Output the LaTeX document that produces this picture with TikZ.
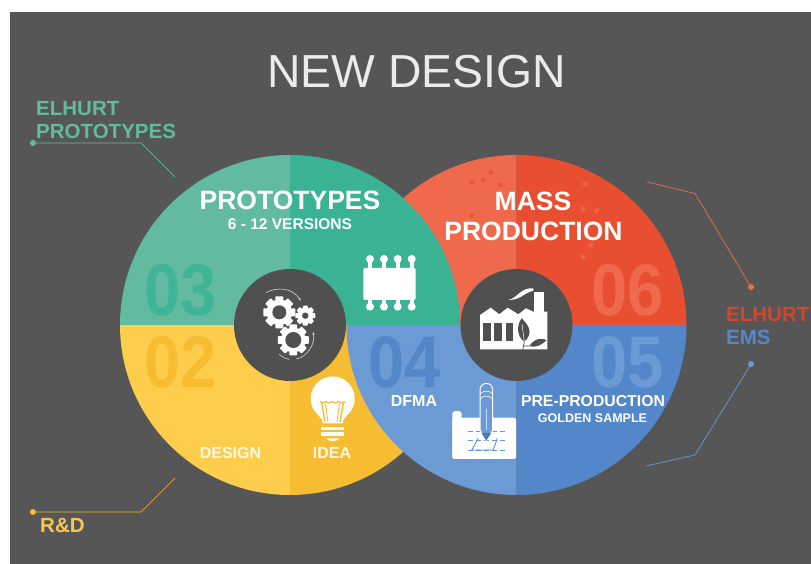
\documentclass[tikz,border=0pt]{standalone}
\usepackage{fontspec}
\setmainfont{Liberation Sans}
\newfontfamily\numfont[FakeStretch=0.89]{Liberation Sans Bold}
\usetikzlibrary{arrows.meta}
\definecolor{bgdark}{HTML}{565656}
\definecolor{holegray}{HTML}{505050}
\definecolor{greenlight}{HTML}{62BBA0}
\definecolor{greendark}{HTML}{3AB395}
\definecolor{redlight}{HTML}{EF6A4C}
\definecolor{reddark}{HTML}{E84F30}
\definecolor{yellowlight}{HTML}{FFCD4C}
\definecolor{yellowdark}{HTML}{F6BD33}
\definecolor{bluelight}{HTML}{6C9AD4}
\definecolor{bluedark}{HTML}{5487C9}
\tikzset{
  headtext/.style={text=white,font=\bfseries\fontsize{26.5}{28}\selectfont,anchor=base,inner sep=0pt},
  subtext/.style={text=white,font=\bfseries\fontsize{16}{18}\selectfont,anchor=base,inner sep=0pt},
  sidetext/.style={font=\bfseries\fontsize{20.5}{22}\selectfont,anchor=base west,inner sep=0pt},
  numtext/.style={font=\numfont\fontsize{73}{73}\selectfont,anchor=base,inner sep=0pt},
  dotnode/.style={circle,inner sep=0pt,minimum size=6pt,fill=#1},
  leader/.style={draw=#1,line width=.7pt},
  holenode/.style={circle,fill=holegray,inner sep=0pt,minimum size=112pt}
}
\newcommand{\quadrant}[3]{\fill[#1] (#2) -- ++(#3:170) arc[start angle=#3,delta angle=90,radius=170] -- cycle;}
\newcommand{\gearicon}[4]{
  \fill[white] (#1,#2) circle (.8*#3);
  \foreach \a in {0,45,...,315}
    \fill[white,rounded corners=.8pt,rotate around={\a:(#1,#2)}] (#1-.25*#3,#2) rectangle (#1+.25*#3,#2+#3);
  \fill[holegray] (#1,#2) circle (#4);
}
\begin{document}
\begin{tikzpicture}[x=1pt,y=1pt]
  \useasboundingbox (0,0) rectangle (811,564);
  \fill[white] (0,0) rectangle (811,564);
  \fill[bgdark] (10,0) rectangle (811,552);

  \coordinate (cl) at (290,239);
  \coordinate (cr) at (516.5,239);

  \quadrant{redlight}{cr}{90}
  \quadrant{reddark}{cr}{0}
  \quadrant{yellowlight}{cl}{180}
  \quadrant{yellowdark}{cl}{270}
  \quadrant{greenlight}{cl}{90}
  \quadrant{greendark}{cl}{0}
  \quadrant{bluelight}{cr}{180}
  \quadrant{bluedark}{cr}{270}

  \foreach \x/\y in {471.7/382.3,483.3/384,490.7/391.3,500.7/379,471.7/348.3}
    \fill[reddark!70!redlight] (\x,\y) circle (2.4);
  \foreach \x/\y in {585/380,583.3/354.7,596.7/353.3,590.7/319,583.3/307.3}
    \fill[redlight!75!reddark] (\x,\y) circle (2.6);

  \node[holenode] (holeleft) at (cl) {};
  \node[holenode] (holeright) at (cr) {};

  \node[text=black!8,font=\fontsize{46.3}{48}\selectfont,anchor=base,inner sep=0pt] (title) at (416.5,476) {NEW DESIGN};

  \node[sidetext,text=greenlight] (elhurtproto) at (36,448) {ELHURT};
  \node[sidetext,text=greenlight] (protoside) at (36,425) {PROTOTYPES};
  \node[sidetext,text=yellowdark!85!white] (rdside) at (40,31) {R\&D};
  \node[sidetext,text=reddark!90!black] (elhurtems) at (726,242) {ELHURT};
  \node[sidetext,text=bluedark] (emsside) at (726,219) {EMS};

  \node[dotnode=greenlight] (dotgreen) at (33,421) {};
  \coordinate (bendgreen) at (141,421);
  \coordinate (endgreen) at (175,387);
  \node[dotnode=yellowdark] (dotyellow) at (33,52) {};
  \coordinate (bendyellow) at (141,52);
  \coordinate (endyellow) at (175,86);
  \node[dotnode=redlight] (dotred) at (751,277) {};
  \coordinate (bendred) at (695,370.5);
  \coordinate (endred) at (647,382);
  \node[dotnode=bluelight] (dotblue) at (751,200) {};
  \coordinate (bendblue) at (695,109);
  \coordinate (endblue) at (646,98);
  \path[leader=greenlight] (dotgreen.center) -- (bendgreen) -- (endgreen);
  \path[leader=yellowdark] (dotyellow.center) -- (bendyellow) -- (endyellow);
  \path[leader=redlight] (dotred.center) -- (bendred) -- (endred);
  \path[leader=bluelight] (dotblue.center) -- (bendblue) -- (endblue);

  \node[headtext] (prototypes) at (290,354) {PROTOTYPES};
  \node[subtext,font=\bfseries\fontsize{15.5}{17}\selectfont] (versions) at (290,334.5) {6 - 12 VERSIONS};
  \node[headtext] (mass) at (533,353) {MASS};
  \node[headtext] (production) at (533.5,323) {PRODUCTION};
  \node[subtext,text=white!85!yellowlight] (design) at (230.5,105) {DESIGN};
  \node[subtext,text=white!85!yellowlight] (idea) at (332,105) {IDEA};
  \node[subtext] (dfma) at (414,157) {DFMA};
  \node[subtext,font=\bfseries\fontsize{15.8}{17}\selectfont] (preprod) at (593,157) {PRE-PRODUCTION};
  \node[subtext,font=\bfseries\fontsize{12.5}{14}\selectfont] (golden) at (592.5,141) {GOLDEN SAMPLE};

  \node[numtext,text=greendark!85!greenlight] (n03) at (181,248) {03};
  \node[numtext,text=yellowdark] (n02) at (180.5,176) {02};
  \node[numtext,text=bluedark] (n04) at (404.5,176) {04};
  \node[numtext,text=bluelight] (n05) at (627.5,176) {05};
  \node[numtext,text=redlight] (n06) at (627.5,248) {06};

  \gearicon{279.3}{251.7}{16}{7}
  \gearicon{305.3}{248.3}{10}{3.2}
  \gearicon{293.3}{224}{15.5}{8}
  \draw[white!85!black,line width=.6pt,-{Stealth[length=3pt]}] (266,271.3) .. controls (276,277) and (292,277) .. (300.7,263.3);
  \draw[white!85!black,line width=.6pt] (279.3,209.7) .. controls (282,207) and (285,205.5) .. (289.3,204.7);
  \draw[white!85!black,line width=.6pt,-{Stealth[length=3pt]}] (296,205) .. controls (306,206) and (316,220) .. (313,232);

  \fill[white,rounded corners=2pt] (363.3,264) rectangle (415.7,296);
  \foreach \x in {370,384,397.7,411.7} {
    \fill[white] (\x-2,257.3) rectangle (\x+2,305);
    \fill[white] (\x,305) circle (4);
    \fill[white] (\x,257.3) circle (4);
  }

  \fill[white] (480,214.7) -- (547.3,214.7) -- (547.3,252.3) -- (533.3,252.3) -- (526,255.7) -- (518.3,249.7) -- (507.7,256.3) -- (499.3,249.7) -- (490.7,256.3) -- (480,249) -- cycle;
  \fill[white] (534,250) rectangle (544,272.3);
  \fill[white] (508.3,264) .. controls (518,266) and (520,276.5) .. (533.3,275.7) -- (533.3,273) .. controls (524,272) and (522,264) .. cycle;
  \foreach \x/\w in {483.3/490.7,494.3/501.7,505.7/512.7}
    \fill[holegray] (\x,223.3) rectangle (\w,241.3);
  \fill[holegray] (524.3,222.3) .. controls (516,228) and (517,240) .. (521.7,245.7) .. controls (527,240) and (535,232) .. cycle;
  \fill[holegray] (529.3,218) .. controls (535,226) and (541,226) .. (546.7,224) .. controls (541,218) and (534,216) .. cycle;
  \draw[holegray,line width=.8pt] (522.7,214) -- (524.3,222.3) (524,218) -- (529.3,218);
  \draw[white,line width=.5pt] (524.3,222.3) -- (522,240);

  \fill[white,rounded corners=2pt] (452.3,105) rectangle (516,146.3);
  \fill[white,rounded corners=3pt] (452.3,105) rectangle (461.7,153);
  \foreach \y in {133,124,114}
    \draw[bluelight,line width=.6pt,dash pattern=on 5pt off 3pt] (468.3,\y) -- (505,\y);
  \draw[bluedark,line width=.8pt] (478.3,125.7) -- (471.7,114) -- (493.3,114) -- (497.3,125.7);
  \draw[white,fill=bluelight,line width=1pt] (480,134) -- (480,174.3) arc[start angle=180,end angle=0,radius=6.35] -- (492.7,134) -- (486.3,123.3) -- cycle;
  \draw[white,line width=.6pt] (480,170) to[bend left=50] (492.7,170) (480,165) to[bend left=50] (492.7,165) (486.3,155) -- (486.3,134);
  \fill[bluedark!90!black] (481.5,131) -- (486.3,123.3) -- (491.2,131) -- cycle;

  \fill[white] (332.7,165.5) circle (22);
  \fill[white] (322.7,140.7) .. controls (322,148) and (312,153) .. (311,162) -- (354.4,162) .. controls (353.4,153) and (343.5,148) .. (342.7,140.7) -- cycle;
  \draw[yellowdark,line width=1.3pt] (320,162.3) to[bend right=40] (326,162.3) to[bend right=40] (332.5,162.3) to[bend right=40] (339,162.3) to[bend right=40] (345,162.3);
  \draw[yellowdark,line width=1.4pt] (321.7,161) -- (325,142) (343.3,161) -- (340,142);
  \draw[yellowdark,line width=.9pt] (325.5,160) -- (328,142) (339.5,160) -- (337,142);
  \fill[white] (320.7,134) rectangle (344,137.3);
  \fill[white] (320.7,128.3) rectangle (344,131.7);
  \fill[white] (326,125.7) -- (339.3,125.7) .. controls (337,122) and (328,122) .. (326,125.7) -- cycle;
\end{tikzpicture}
\end{document}
